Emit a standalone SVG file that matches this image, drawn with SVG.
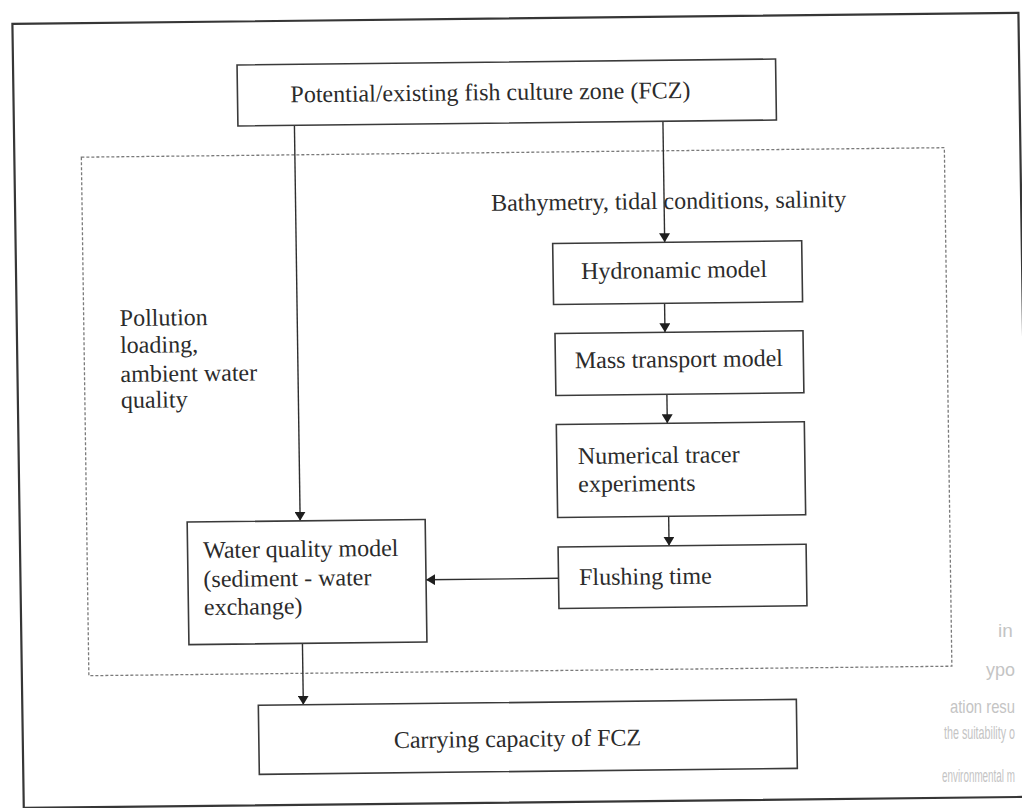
<svg xmlns="http://www.w3.org/2000/svg" width="1022" height="808" viewBox="0 0 1022 808">
  <style>
    .frame { fill: none; stroke: #363636; stroke-width: 2.2; }
    .zone { fill: none; stroke: #7a7a7a; stroke-width: 1.3; stroke-dasharray: 3 2; }
    .box { fill: #ffffff; stroke: #3a3a3a; stroke-width: 1.6; }
    .link { fill: none; stroke: #2e2e2e; stroke-width: 1.4; marker-end: url(#head); }
    .label { font-family: "Liberation Serif", "Times New Roman", serif; font-size: 24px; fill: #2b2b2b; }
    .faint { font-family: "Liberation Sans", Arial, sans-serif; font-size: 19px; fill: #c4c4c4; }
  </style>
  <defs>
    <marker id="head" markerUnits="userSpaceOnUse" viewBox="0 0 9 11" markerWidth="9" markerHeight="11" refX="9" refY="5.5" orient="auto">
      <path d="M0,0 L9,5.5 L0,11 z" fill="#1e1e1e"/>
    </marker>
  </defs>

  <rect width="1022" height="808" fill="#ffffff"/>

  <!-- faint lettering at the lower right margin -->
  <g id="margin-text">
    <text class="faint" x="998" y="637">in</text>
    <text class="faint" x="986" y="676" textLength="29" lengthAdjust="spacingAndGlyphs">ypo</text>
    <text class="faint" x="950" y="713" textLength="65" lengthAdjust="spacingAndGlyphs">ation resu</text>
    <text class="faint" x="944" y="739" textLength="71" lengthAdjust="spacingAndGlyphs">the suitability o</text>
    <text class="faint" x="942" y="782" textLength="73" lengthAdjust="spacingAndGlyphs">environmental m</text>
  </g>

  <!-- the whole sheet sits slightly skewed -->
  <g id="sheet" transform="matrix(1,-0.011,0.0145,1,-5.86,5.62)">
    <rect id="outer-frame" class="frame" x="18" y="18.5" width="1006" height="784"/>
    <rect id="model-zone" class="zone" x="85" y="152.5" width="863" height="518.5"/>

    <g id="connectors">
      <path class="link" d="M298.5,123 V518.5"/>
      <path class="link" d="M667,123 V244"/>
      <path class="link" d="M666,305 V334"/>
      <path class="link" d="M667,396 V425"/>
      <path class="link" d="M667,518 V547.5"/>
      <path class="link" d="M556,578.8 H423.5"/>
      <path class="link" d="M299,641 V702.5"/>
    </g>

    <g id="fcz">
      <rect class="box" x="242" y="62" width="538.5" height="61"/>
      <text class="label" x="295" y="100">Potential/existing fish culture zone (FCZ)</text>
    </g>

    <g id="inputs-physical">
      <text class="label" x="494" y="210.7">Bathymetry, tidal conditions, salinity</text>
    </g>

    <g id="inputs-pollution">
      <text class="label" x="121" y="321.7">Pollution</text>
      <text class="label" x="121" y="348.7">loading,</text>
      <text class="label" x="121" y="377.7">ambient water</text>
      <text class="label" x="121" y="403.7">quality</text>
    </g>

    <g id="hydronamic">
      <rect class="box" x="555" y="244" width="249" height="61"/>
      <text class="label" x="583" y="279.8">Hydronamic model</text>
    </g>

    <g id="mass-transport">
      <rect class="box" x="556" y="334" width="248" height="62"/>
      <text class="label" x="575.5" y="369">Mass transport model</text>
    </g>

    <g id="tracer">
      <rect class="box" x="556" y="425" width="248" height="93"/>
      <text class="label" x="577" y="464.7">Numerical tracer</text>
      <text class="label" x="577" y="492.7">experiments</text>
    </g>

    <g id="flushing">
      <rect class="box" x="556" y="547.5" width="248" height="61.5"/>
      <text class="label" x="576.5" y="585.8">Flushing time</text>
    </g>

    <g id="water-quality">
      <rect class="box" x="185.5" y="518.5" width="238" height="122.5"/>
      <text class="label" x="201" y="554.6">Water quality model</text>
      <text class="label" x="201" y="583.6">(sediment - water</text>
      <text class="label" x="201" y="611.6">exchange)</text>
    </g>

    <g id="carrying-capacity">
      <rect class="box" x="254" y="702.5" width="538" height="69"/>
      <text class="label" x="389" y="746.7">Carrying capacity of FCZ</text>
    </g>
  </g>
</svg>
